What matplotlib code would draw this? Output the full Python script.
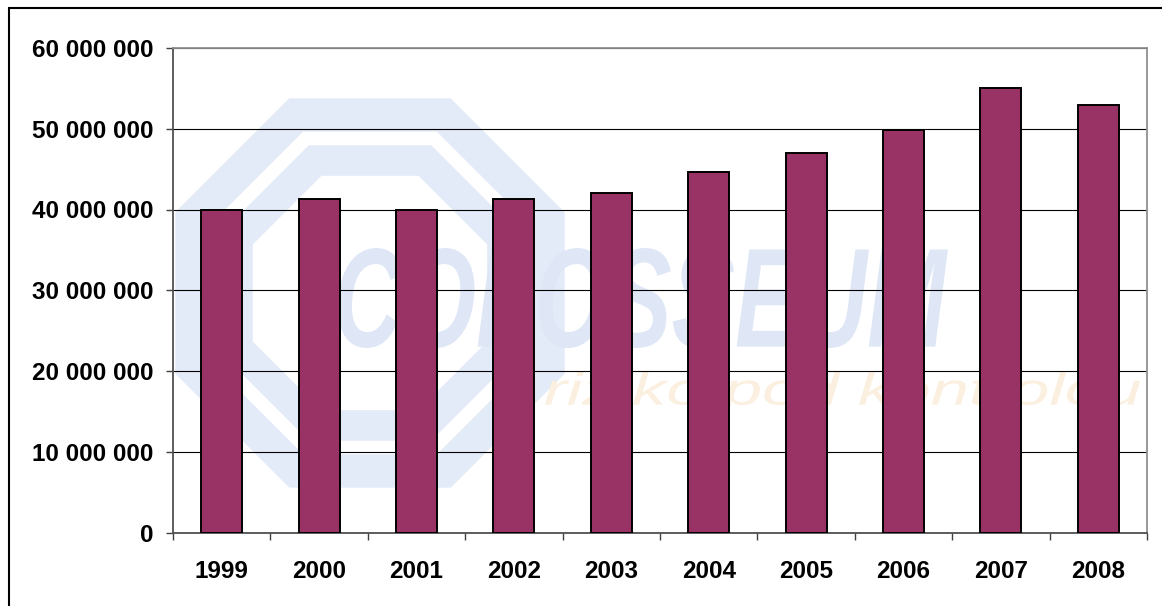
import numpy as np
import matplotlib
matplotlib.use('Agg')
import matplotlib.pyplot as plt
import matplotlib.ticker as mticker
from matplotlib.patches import RegularPolygon, PathPatch, Rectangle
from matplotlib.textpath import TextPath
from matplotlib.font_manager import FontProperties
from matplotlib.transforms import Affine2D

plt.rcParams['font.family'] = ['Liberation Sans', 'DejaVu Sans']

years = ['1999', '2000', '2001', '2002', '2003', '2004', '2005', '2006', '2007', '2008']
values = [39.9e6, 41.3e6, 39.9e6, 41.3e6, 42.1e6, 44.7e6, 47.0e6, 49.85e6, 55.1e6, 52.95e6]
yticks = [0, 10e6, 20e6, 30e6, 40e6, 50e6, 60e6]

fig = plt.figure(figsize=(11.62, 6.06), dpi=100)
pos = [173/1162, 1 - 532.5/606, (1147-173)/1162, 484.5/606]

# watermark layer (logo), drawn in pixel units of the plot area
wm = fig.add_axes(pos, zorder=0)
wm.set_xlim(173, 1147)
wm.set_ylim(532.5, 48)
wm.axis('off')
blue = '#e3eaf8'
for r, w in [(192.7, 24), (143.4, 22)]:
    wm.add_patch(RegularPolygon((370, 293), numVertices=8, radius=r,
                                orientation=np.pi/8, fill=False,
                                edgecolor=blue, linewidth=w, joinstyle='miter'))

def fit_text(s, box, color, weight='bold'):
    L, T, R, B = box
    tp = TextPath((0, 0), s, size=1,
                  prop=FontProperties(family='Liberation Sans', weight=weight, style='italic'))
    ext = tp.get_extents()
    tr = Affine2D().translate(-ext.x0, -ext.y0).scale((R-L)/ext.width, -(B-T)/ext.height).translate(L, B)
    wm.add_patch(PathPatch(tr.transform_path(tp), facecolor=color, edgecolor='none'))

fit_text('COLOSSEUM', (338, 248, 948, 348), '#dfe7f7')
fit_text('riziko pod kontrolou', (545, 372, 1140, 414), '#fbefdf', weight='normal')

ax = fig.add_axes(pos, zorder=1)
ax.patch.set_alpha(0)
x = np.arange(len(years))
ax.bar(x, values, width=0.42, color='#993366', edgecolor='black', linewidth=1.4, zorder=3)

ax.set_xlim(-0.5, len(years) - 0.5)
ax.set_ylim(0, 60e6)
ax.set_yticks(yticks)
ax.yaxis.set_major_formatter(mticker.FuncFormatter(lambda v, p: '{:,.0f}'.format(v).replace(',', ' ')))
ax.grid(axis='y', color='black', linewidth=0.8, zorder=1)
ax.set_axisbelow(True)

ax.set_xticks(x)
ax.set_xticklabels(years)
ax.set_xticks(np.arange(-0.5, len(years)), minor=True)
ax.tick_params(axis='x', which='major', length=0, pad=20, labelsize=17.5)
ax.tick_params(axis='x', which='minor', length=5, width=1, color='#404040')
ax.tick_params(axis='y', length=5, width=1, color='#404040', pad=9, labelsize=17.5)
for lab in ax.get_xticklabels() + ax.get_yticklabels():
    lab.set_fontweight('bold')

for side in ['top', 'right']:
    ax.spines[side].set_color('#909090')
    ax.spines[side].set_linewidth(1.3)
for side in ['left', 'bottom']:
    ax.spines[side].set_color('#505050')
    ax.spines[side].set_linewidth(1.3)

# outer chart border (only top and left visible)
fig.patches.append(Rectangle((9/1162, -0.1), 1.2, 1 - 8/606 + 0.1, transform=fig.transFigure,
                             fill=False, edgecolor='black', linewidth=1.5))

fig.savefig('out.png', dpi=100)
